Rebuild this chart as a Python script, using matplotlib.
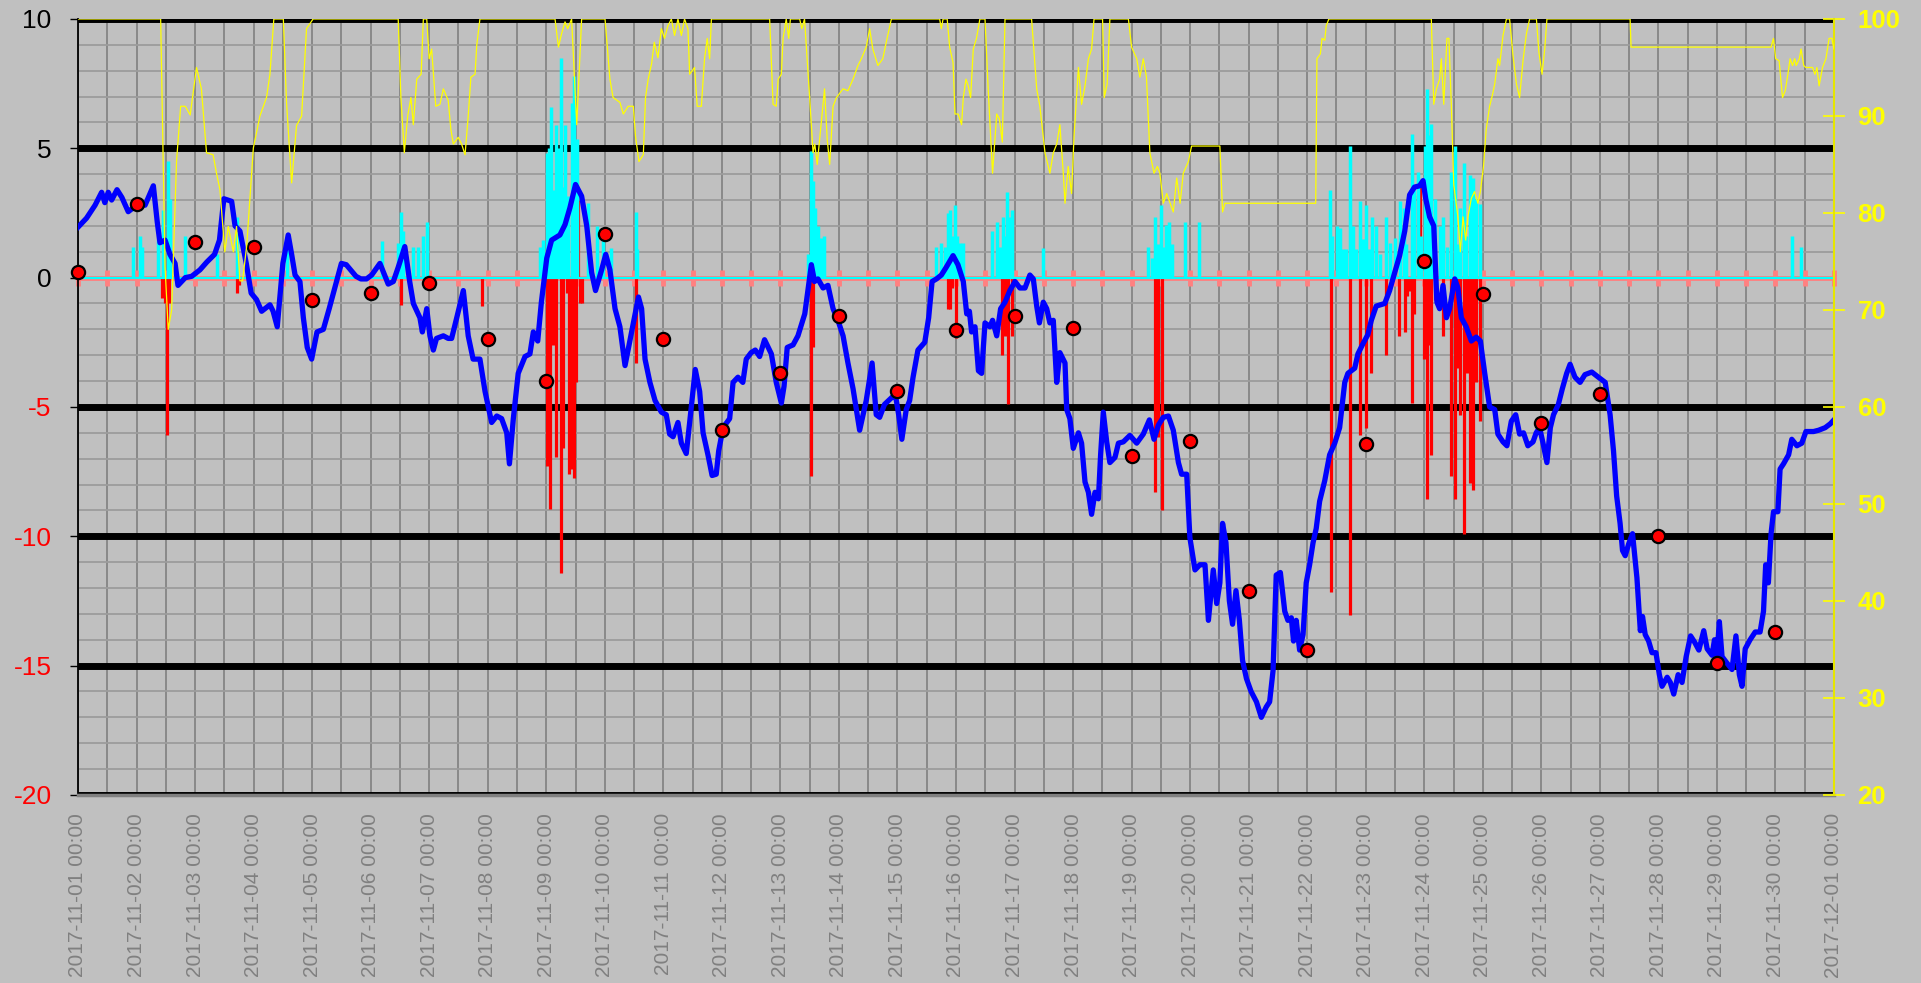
import matplotlib
matplotlib.use("Agg")
import matplotlib.pyplot as plt
import matplotlib.dates as mdates
from matplotlib.ticker import MultipleLocator
import numpy as np
import pandas as pd

plt.rcParams["font.family"] = ["Liberation Sans", "DejaVu Sans"]

START = pd.Timestamp("2017-11-01 00:00")
END = pd.Timestamp("2017-12-01 00:00")

# blue line: hours since start, value
blue_hours = [
    0, 3.5, 7, 9.7, 11, 12.4, 13.8, 16, 18, 20.6, 24, 27.5, 30.9, 32.5, 33.6, 35.7, 37.7, 39.8, 41, 44,
    46.6, 50, 52.8, 56, 58, 59.8, 63, 64.4, 66.4, 69, 71, 73.2, 75.3, 78.7, 80, 81.7, 84, 86.2, 87.6, 89,
    91, 92.4, 94, 95.8, 98, 100.6, 103, 106, 108, 110, 114, 116, 118.3, 120.4, 123.8, 127.2, 129.3, 131.3, 134, 136,
    137.5, 140.2, 141.2, 143, 144.3, 145.7, 147, 149.8, 151.8, 153.2, 155.3, 158, 160, 162, 164.8, 166.9, 169.6, 171.7, 173.7, 175.8,
    176.9, 178.5, 180.5, 183.3, 185.3, 186.7, 188.5, 190, 192.2, 194.2, 197.6, 199.7, 201.7, 204, 206.5, 208.6, 210.6, 212.2, 214.7, 216.4,
    218.1, 220.2, 222.2, 224.3, 227, 229.8, 231.1, 232.5, 234.5, 236.6, 239.2, 241.2, 242.6, 244, 246, 247.4, 249.4, 250.8, 253.1, 254.9,
    256.3, 258.3, 260, 261.7, 262.7, 264.5, 267.2, 268.6, 270.6, 272.6, 274, 276, 277.7, 279.5, 281.5, 284.3, 286.3, 288.4, 289.5, 290.8,
    293.2, 295.2, 298, 300.7, 302, 303.4, 305.5, 307.5, 309.6, 311.6, 313.7, 315.7, 317.8, 320.5, 323.2, 325.6, 327.3, 328.7, 330.7, 333.5,
    335.1, 336.5, 337.8, 339.6, 341, 342.4, 344.4, 347.2, 348.8, 350.2, 352, 354, 356, 358.8, 360.8, 363, 364.4, 365.5, 366.4, 367.8,
    369.2, 370.5, 371.9, 373.9, 375, 376.7, 378.3, 380.1, 382.1, 384.2, 386.2, 388.3, 390.3, 391.7, 393.1, 394.2, 395.8, 397.2, 398.5, 399.9,
    401.3, 402.6, 404.7, 405.4, 406.7, 408.1, 410.2, 411.5, 412.9, 414.3, 415.6, 417, 418.4, 419.3, 420.4, 421.8, 423.1, 425.2, 426.6, 428.6,
    431.3, 434.1, 436.8, 439.3, 441.2, 443, 445, 447.1, 449.1, 451.2, 452.5, 454.6, 455.9, 458, 460, 462.1, 463.5, 465.5, 466.9, 468.2,
    469.3, 470.7, 472.1, 473.4, 474.8, 476.2, 477.5, 479.1, 481, 483.2, 485.2, 487.2, 488.6, 490, 491.3, 493, 494.8, 496.1, 497.5, 498.4,
    499.5, 500.9, 502.3, 503.6, 505, 506.4, 507.7, 509.1, 511.2, 513.2, 515.3, 517.3, 519.4, 520.7, 523.5, 524.8, 526.9, 528.9, 530.3, 532.3,
    535.8, 537.8, 539.9, 541.9, 544, 546, 548, 550.1, 551.5, 552.6, 554.2, 555.9, 557.2, 558.3, 559.7, 561.1, 562.4, 564.5, 565.8, 567.2,
    569.2, 571.3, 573.3, 575, 576.8, 578.8, 580.9, 582.2, 584.3, 585.9, 587.7, 589.5, 591.1, 592.7, 594.5, 596.6, 597.9, 599.3, 600.7, 602.3,
    603.7, 605, 607, 608.6, 610.4, 611.8, 613.8, 615.9, 617.9, 620.7, 623.4, 626.2, 628.2, 629.6, 630.9, 632.3, 633.3, 634.4, 635.8, 637.4,
    639.2, 640.6, 641.5, 642.6, 644, 645.4, 647, 648.4, 649.5, 651.6, 652.9, 654.3, 656.1, 657.7, 659.4, 661.2, 662.9, 664.6, 666.6, 668,
    670, 671, 672, 673, 674.1, 676.1, 678.2, 679.8, 681.2, 682.3, 683.6, 685.6, 687.7, 689.7, 691.1, 692, 693.1, 694.2, 695.2, 697,
    697.9, 699.3, 701.4, 702.7, 704.8, 706.8, 708.5, 711.6, 713.7, 716.4, 718.5, 720,
]
blue_vals = [
    1.95, 2.3, 2.8, 3.3, 2.9, 3.3, 3.0, 3.4, 3.1, 2.55, 2.8, 2.8, 3.55, 2.15, 1.35, 1.45, 0.9, 0.55, -0.3, 0,
    0.05, 0.3, 0.6, 0.9, 1.45, 3.05, 2.95, 2.0, 1.8, 0.55, -0.6, -0.85, -1.3, -1.05, -1.3, -1.9, 0.55, 1.65, 0.9, 0.1,
    -0.15, -1.55, -2.7, -3.15, -2.1, -2.0, -1.2, -0.15, 0.55, 0.5, 0.05, -0.05, -0.05, 0.1, 0.55, -0.25, -0.15, 0.4, 1.2, -0.15,
    -1.0, -1.55, -2.1, -1.2, -2.25, -2.8, -2.35, -2.25, -2.35, -2.35, -1.55, -0.5, -2.25, -3.15, -3.15, -4.4, -5.6, -5.35, -5.45, -6.0,
    -7.2, -5.45, -3.7, -3.05, -2.95, -2.1, -2.45, -0.95, 0.75, 1.45, 1.65, 2.05, 2.7, 3.6, 3.15, 2.0, 0.2, -0.5, 0.3, 0.9,
    0.3, -1.2, -1.9, -3.4, -2.1, -0.75, -1.2, -3.15, -4.05, -4.75, -5.2, -5.3, -6.05, -6.15, -5.6, -6.4, -6.8, -5.6, -3.55, -4.4,
    -6.0, -6.85, -7.65, -7.6, -6.7, -5.8, -5.45, -4.05, -3.85, -4.05, -3.15, -2.9, -2.8, -3.05, -2.4, -2.95, -4.05, -4.85, -4.2, -2.7,
    -2.6, -2.25, -1.4, 0.5, -0.15, -0.05, -0.4, -0.3, -1.2, -1.65, -2.25, -3.3, -4.3, -5.9, -4.75, -3.3, -5.3, -5.4, -4.9, -4.65,
    -4.5, -5.3, -6.25, -5.1, -4.75, -3.85, -2.8, -2.5, -1.55, -0.15, -0.05, 0.1, 0.4, 0.85, 0.5, -0.15, -1.4, -1.3, -2.1, -1.9,
    -3.6, -3.7, -1.75, -1.9, -1.65, -2.25, -1.2, -0.95, -0.5, -0.15, -0.4, -0.4, 0.1, -0.05, -1.1, -1.75, -0.95, -1.2, -1.75, -1.65,
    -4.05, -2.9, -3.3, -5.1, -5.45, -6.6, -6.0, -6.4, -7.9, -8.3, -9.15, -8.3, -8.55, -6.85, -5.2, -6.35, -7.15, -6.95, -6.4, -6.35,
    -6.1, -6.4, -6.05, -5.5, -6.25, -5.7, -5.4, -5.35, -5.9, -7.15, -7.6, -7.6, -10.05, -11.3, -11.1, -11.1, -13.25, -11.3, -12.6, -11.8,
    -9.5, -10.25, -12.5, -13.4, -12.1, -13.25, -14.8, -15.5, -16.0, -16.4, -17.0, -16.6, -16.4, -15.2, -11.5, -11.4, -12.9, -13.25, -13.15, -14.05,
    -13.25, -14.4, -13.8, -11.8, -11.1, -10.25, -9.7, -8.65, -7.85, -6.85, -6.4, -5.8, -4.05, -3.7, -3.5, -2.95, -2.55, -2.2, -1.65, -1.1,
    -1.0, -0.5, 0.2, 0.85, 1.8, 3.2, 3.5, 3.55, 3.75, 3.05, 2.35, 2.0, -0.95, -1.2, -0.3, -1.55, -1.2, -0.05, -0.4, -1.55,
    -1.9, -2.45, -2.3, -2.45, -3.7, -5.0, -5.1, -6.05, -6.35, -6.5, -5.55, -5.3, -6.05, -6.0, -6.5, -6.35, -6.0, -5.8, -6.4, -7.15,
    -5.8, -5.3, -4.9, -4.3, -3.7, -3.35, -3.85, -4.05, -3.75, -3.65, -3.85, -4.05, -5.3, -6.7, -8.45, -9.5, -10.55, -10.75, -10.3, -9.9,
    -11.6, -13.65, -13.1, -13.8, -14.05, -14.5, -14.5, -15.35, -15.8, -15.45, -15.65, -16.1, -15.35, -15.65, -14.65, -13.85, -14.1, -14.4, -13.65, -14.35,
    -14.6, -14.0, -14.65, -13.3, -14.65, -14.9, -15.15, -13.85, -15.35, -15.8, -14.35, -14.0, -13.7, -13.7, -12.9, -11.1, -11.8, -9.9, -9.05, -9.05,
    -7.4, -7.2, -6.85, -6.25, -6.5, -6.4, -5.95, -5.95, -5.9, -5.8, -5.65, -5.5,
]

# yellow line (right axis)
yellow_hours = [
    0, 33.9, 35.7, 37.0, 38.4, 40.4, 42.1, 44, 46, 48.6, 50.6, 52.7, 55.4, 56.8, 58.2, 60.2, 61.6, 63.7, 65, 66.4,
    67.5, 69.2, 71.9, 74.6, 77.3, 78.7, 80.3, 84.2, 85.5, 87.6, 89.6, 91.7, 93.7, 96.4, 131.3, 132.4, 133.8, 135.2, 136.5, 137.5,
    138.9, 140.7, 141.6, 143, 144, 145, 146.7, 148.4, 149.8, 151.8, 152.9, 153.9, 155.9, 157.3, 158.7, 160, 161.1, 162.8, 163.5, 164.8,
    195.6, 197, 198.3, 199.7, 200.8, 202.4, 203.5, 204.5, 206.5, 216.1, 218.1, 219.4, 222.2, 223.6, 225.6, 227.7, 228.6, 230, 231.8, 232.7,
    233.8, 235.2, 236.3, 237.8, 239.2, 240.5, 241.9, 243.3, 244.6, 246, 247.4, 248.7, 250.1, 250.8, 252.8, 253.9, 255.6, 256.9, 258, 259,
    259.7, 283.6, 285, 286.3, 287.1, 288.4, 289.1, 290.4, 291.4, 292.1, 295.9, 296.8, 297.9, 300, 301.4, 302.1, 303.1, 304.7, 306.1, 307.2,
    308.2, 309.6, 311, 313.7, 315.7, 317.8, 319.8, 321.2, 323.2, 324.6, 325.9, 328, 330, 331.4, 333.5, 353.3, 354, 354.7, 356.4, 357.4,
    358.8, 359.6, 360.9, 362.3, 363, 364.1, 365, 366, 367.1, 368.4, 369.8, 371.9, 373.2, 375, 376.7, 377.8, 379, 380.1, 391, 393.1,
    394.4, 396.5, 398.5, 399.9, 401.3, 402.6, 404, 404.7, 406, 407.4, 408.4, 410.2, 411.5, 412.9, 414.3, 415.6, 416.6, 420.1, 420.8, 422,
    423.1, 430.7, 432, 434.1, 435.4, 436.8, 438.1, 439.5, 441.2, 442.6, 443.6, 445, 446.4, 447.8, 449.1, 450.5, 451.9, 453.2, 455.3, 456.6,
    468.2, 469.3, 470.3, 507.5, 508, 509.4, 510.1, 511.2, 511.8, 512.9, 554.9, 555.9, 557, 558.3, 559, 560, 561.3, 562.1, 563.1, 564.1,
    565.8, 566.8, 567.9, 569, 569.9, 571.3, 572.6, 574, 575, 576.3, 577.4, 578.8, 579.9, 580.9, 582.2, 582.9, 584.3, 585.7, 587, 588.4,
    589.8, 591.1, 592.5, 593.9, 595.2, 598, 599, 600.3, 601.4, 602.3, 636.4, 636.8, 694.2, 695.2, 696.1, 697.5, 698.9, 700, 701.1, 702,
    703, 703.9, 704.5, 705.8, 706.5, 707.6, 708.5, 711.2, 712.2, 713, 713.9, 715.3, 716.7, 718, 719.1, 720,
]
yellow_vals = [
    100, 100, 74.4, 68, 70, 85.3, 91, 91, 90.1, 95, 92.8, 86.2, 86, 84.1, 82.4, 76, 78.6, 76, 78.6, 73,
    73, 76.7, 86.7, 90, 91.9, 94.3, 100, 100, 91.4, 83.1, 89, 90, 99, 100, 100, 91.9, 86.2, 90, 91.9, 89.1,
    93.8, 94.3, 100, 100, 95.9, 96.9, 91, 91.2, 92.8, 91.6, 88.6, 87.1, 87.8, 87.1, 86, 90, 94, 94.3, 97.3, 100,
    100, 97.1, 98.5, 99.7, 99, 100, 94.3, 89.1, 100, 100, 93.8, 91.9, 91.4, 90.2, 91, 91, 87.9, 85.3, 86, 91.9,
    93.8, 95.4, 97.6, 96, 99, 98, 99.3, 100, 98.3, 100, 98.3, 100, 99, 94.3, 95, 91, 91, 95.9, 98, 95.9,
    100, 100, 91.2, 91, 93.8, 94.3, 98, 100, 98, 100, 100, 99, 100, 91.9, 86.2, 87.1, 85, 89.1, 92.8, 87.6,
    85, 91, 91.9, 92.8, 92.6, 93.8, 95.2, 95.9, 97.1, 99, 96.9, 95.2, 95.9, 97.6, 100, 100, 99, 100, 100, 97.1,
    95.5, 90.2, 90.2, 89.1, 91.9, 93.8, 93.1, 91.9, 96.9, 98, 100, 100, 92.8, 84.1, 90.2, 89.7, 87.3, 100, 100, 92.8,
    91, 86.2, 84.1, 86.2, 87.1, 89.1, 84.1, 81, 84.8, 82, 87.9, 95, 91.2, 93.1, 95.9, 96.9, 100, 100, 91.9, 93.3,
    100, 100, 97.1, 95.9, 94, 95.9, 94, 86.2, 84.1, 84.8, 84.1, 81, 82, 81, 80.1, 83.6, 81, 84.1, 85.3, 86.9,
    86.9, 80.1, 81, 81, 95.9, 96.4, 98, 97.8, 99.3, 100, 100, 91.2, 92.8, 93.8, 95.9, 91.2, 98, 98, 91.2, 82.9,
    79.6, 76, 79.6, 77.2, 79.6, 81.5, 82.2, 81, 82.2, 84.8, 88.6, 91, 92.1, 93.3, 95.9, 95.2, 98.3, 100, 100, 96.2,
    93.3, 91.9, 95.7, 98.5, 100, 100, 96.6, 94.3, 96.9, 100, 100, 97.1, 97.1, 98, 95.9, 95.7, 91.9, 92.6, 94.3, 95.9,
    95.2, 95.9, 95.2, 95.9, 96.9, 95.2, 95, 95, 94.3, 95, 93.1, 95, 95.9, 98, 98, 96.9,
]

# cyan spikes (up from zero)
cyan_hours = [
    22.7, 25.4, 26.4, 32.9, 35, 37, 37.7, 43.9, 56.8, 65.3, 85.5, 124.8, 131.3, 132.4, 133.4, 137.5, 139.5, 141.6, 143, 189.4,
    190.8, 192.2, 193.1, 193.9, 194.9, 195.9, 197, 197.9, 199, 199.7, 201, 202.4, 203.5, 204.5, 209, 212.7, 215.4, 218.5, 228.6, 229.4,
    299.3, 300.7, 301.4, 302.3, 303.4, 304.5, 305.9, 351.9, 353.9, 355.5, 356.7, 357.6, 358.6, 359.6, 360.6, 361.5, 362.9, 374.6, 376.7, 378,
    379.4, 380.1, 381, 381.8, 382.8, 395.8, 438.9, 440.2, 441.6, 442.9, 444.1, 445, 446.1, 447.5, 448.5, 453.9, 459.8, 513.5, 514.3, 516.3,
    517.3, 518.7, 519.8, 521.7, 522.8, 524.1, 525.6, 526.7, 528, 529.4, 530.7, 532.1, 533.7, 536.2, 537.8, 539.9, 541.9, 543.5, 544.6, 547.1,
    548, 549.4, 550.8, 552.2, 553.1, 554, 554.9, 556.3, 558.3, 559.7, 561.3, 563.1, 564.7, 565.8, 566.8, 568.2, 569.2, 570.6, 572, 573.3,
    574.7, 702.7, 706.4,
]
cyan_vals = [
    1.2, 1.6, 1.2, 1.45, 2.6, 4.5, 3.05, 1.6, 0.9, 2.35, 1.1, 1.4, 1.35, 2.55, 1.8, 1.2, 1.2, 1.6, 2.15, 1.2,
    1.45, 4.8, 5.0, 6.6, 3.4, 5.9, 5.0, 8.5, 3.5, 5.9, 3.15, 6.75, 7.8, 5.35, 2.9, 2.0, 1.45, 1.15, 2.55, 1.1,
    0.9, 4.9, 3.75, 2.7, 2.0, 1.55, 1.6, 1.2, 1.35, 1.2, 2.5, 2.6, 1.6, 2.8, 1.6, 1.35, 1.35, 1.8, 2.15, 1.2,
    2.35, 1.6, 3.3, 2.35, 2.6, 1.15, 1.2, 0.75, 2.35, 1.3, 2.8, 1.2, 2.05, 2.15, 1.3, 2.15, 2.15, 3.4, 1.6, 2.0,
    1.9, 1.1, 1.1, 5.1, 2.0, 1.1, 2.95, 1.5, 2.8, 1.1, 2.35, 2.0, 0.9, 2.35, 1.35, 1.55, 2.95, 2.7, 1.3, 5.55,
    3.4, 4.1, 1.6, 5.1, 7.3, 5.5, 5.95, 3.05, 2.0, 2.35, 1.2, 4.1, 5.1, 1.3, 2.7, 4.45, 1.6, 3.95, 3.85, 3.05,
    2.85, 1.6, 1.2,
]

# red spikes (from zero)
red_hours = [
    34.5, 35.5, 36.7, 37.5, 65, 66, 132.4, 165.5, 192.2, 193.5, 194.9, 196.2, 197.9, 199, 200.4, 201.4, 202.4, 203.4, 204.3, 205,
    205.8, 206.8, 228.7, 300.5, 301.5, 356.7, 357.6, 358.2, 359.9, 378.7, 380.1, 381.5, 382.8, 441.6, 442.9, 444.3, 513.9, 521.7, 525.6, 528.3,
    530.3, 536.2, 541.6, 544.2, 545, 546, 547.1, 548, 549.4, 550.3, 551.9, 553.1, 554, 554.9, 556.3, 559.7, 563.1, 564.5, 565.8, 566.8,
    568.2, 569.5, 570.6, 572, 573.1, 574.7,
]
red_vals = [
    -0.8, -1.0, -6.1, -1.0, -0.6, -0.3, -1.05, -1.1, -7.3, -8.95, -2.6, -6.95, -11.4, -6.6, -0.6, -7.6, -7.4, -7.75, -4.05, 3.0,
    -1.0, -1.0, -3.3, -7.65, -2.7, -1.2, -1.2, -0.4, -2.35, -3.0, -2.25, -4.9, -2.25, -8.3, -6.15, -9.0, -12.15, -13.05, -6.1, -5.8,
    -3.7, -3.0, -2.25, -2.1, -0.7, -0.5, -4.85, -1.4, 3.2, 3.5, -3.15, -8.55, -2.6, -6.85, -0.85, -2.25, -7.65, -8.55, -3.5, -5.3,
    -9.9, -3.7, -7.95, -8.2, -4.05, -5.55,
]

# daily red dots, one per day from 2017-11-01
dot_vals = [
    0.22, 2.83, 1.36, 1.17, -0.87, -0.6, -0.22, -2.38, -4.0, 1.68,
    -2.38, -5.9, -3.68, -1.5, -4.38, -2.03, -1.5, -1.95, -6.88, -6.3,
    -12.1, -14.4, -6.45, 0.65, -0.64, -5.63, -4.5, -10.0, -14.9, -13.7,
]

ref_levels = [10, 5, -5, -10, -15, -20]
left_ticks = [-20, -15, -10, -5, 0, 5, 10]
right_ticks = [20, 30, 40, 50, 60, 70, 80, 90, 100]


def to_time(hours):
    return START + pd.to_timedelta(np.asarray(hours, dtype=float), unit="h")


BG = "#c0c0c0"
fig = plt.figure(figsize=(19.21, 9.83), dpi=100, facecolor=BG)
ax = fig.add_axes([0.0406, 0.1913, 0.9141, 0.7894])
ax.set_facecolor(BG)

ax.set_xlim(START, END)
ax.set_ylim(-20, 10)

# grid
ax.xaxis.set_major_locator(mdates.DayLocator())
ax.xaxis.set_minor_locator(mdates.HourLocator(byhour=[12]))
ax.xaxis.set_major_formatter(mdates.DateFormatter("%Y-%m-%d %H:%M"))
ax.yaxis.set_minor_locator(MultipleLocator(1))
ax.grid(which="both", axis="x", color="#858585", lw=1.3, zorder=0)
ax.grid(which="both", axis="y", color="#9c9c9c", lw=1.3, zorder=0)
ax.set_axisbelow(True)

for lvl in ref_levels:
    ax.axhline(lvl, color="black", lw=5, zorder=1)

# zero line with half-day markers
marker_times = pd.date_range(START, END, freq="12h")
ax.axhline(0, color="#ff8080", lw=3.5, zorder=2)
ax.plot(marker_times, np.zeros(len(marker_times)), ls="none", marker="|",
        ms=12, mew=3.5, color="#ff8080", zorder=2, clip_on=False)

ax.vlines(to_time(red_hours), 0, red_vals, color="#ff0000", lw=2.3, zorder=3)
ax.axhline(0, color="#00ffff", lw=1.6, zorder=4)
ax.vlines(to_time(cyan_hours), 0, cyan_vals, color="#00ffff", lw=2.5, zorder=4)

ax.plot(to_time(blue_hours), blue_vals, color="#0000ff", lw=3.8, zorder=5,
        solid_joinstyle="round")

dot_times = pd.date_range(START, periods=len(dot_vals), freq="D")
ax.plot(dot_times, dot_vals, ls="none", marker="o", ms=9.5, mfc="#ff0000",
        mec="black", mew=1.6, zorder=6, clip_on=False)

# left axis styling
ax.set_yticks(left_ticks)
ax.set_yticklabels([str(v) for v in left_ticks])
for lab, v in zip(ax.get_yticklabels(), left_ticks):
    lab.set_color("red" if v < 0 else "black")
ax.tick_params(axis="y", which="major", length=6, width=1, color="black",
               labelsize=19, pad=13)
ax.tick_params(axis="y", which="minor", length=0)
ax.tick_params(axis="x", which="both", length=0, labelsize=15, pad=13,
               labelcolor="#808080", labelrotation=90)

for side in ("top", "right"):
    ax.spines[side].set_visible(False)
ax.spines["left"].set_color("black")
ax.spines["left"].set_linewidth(1.3)
ax.spines["bottom"].set_color("#808080")
ax.spines["bottom"].set_linewidth(2.5)

# right axis
ax2 = ax.twinx()
ax2.set_ylim(20, 100)
ax2.plot(to_time(yellow_hours), yellow_vals, color="#ffff00", lw=0.9, zorder=7)
ax2.set_yticks(right_ticks)
ax2.tick_params(axis="y", direction="inout", length=16, width=1.2, color="#ffff00",
                labelcolor="#ffff00", labelsize=18.5, pad=9)
for lab in ax2.get_yticklabels():
    lab.set_fontweight("bold")
for side in ("top", "left", "bottom"):
    ax2.spines[side].set_visible(False)
ax2.spines["right"].set_color("#e6e600")
ax2.spines["right"].set_linewidth(1.5)
ax2.set_xlim(START, END)

fig.savefig("out.png", dpi=100, facecolor=BG)
